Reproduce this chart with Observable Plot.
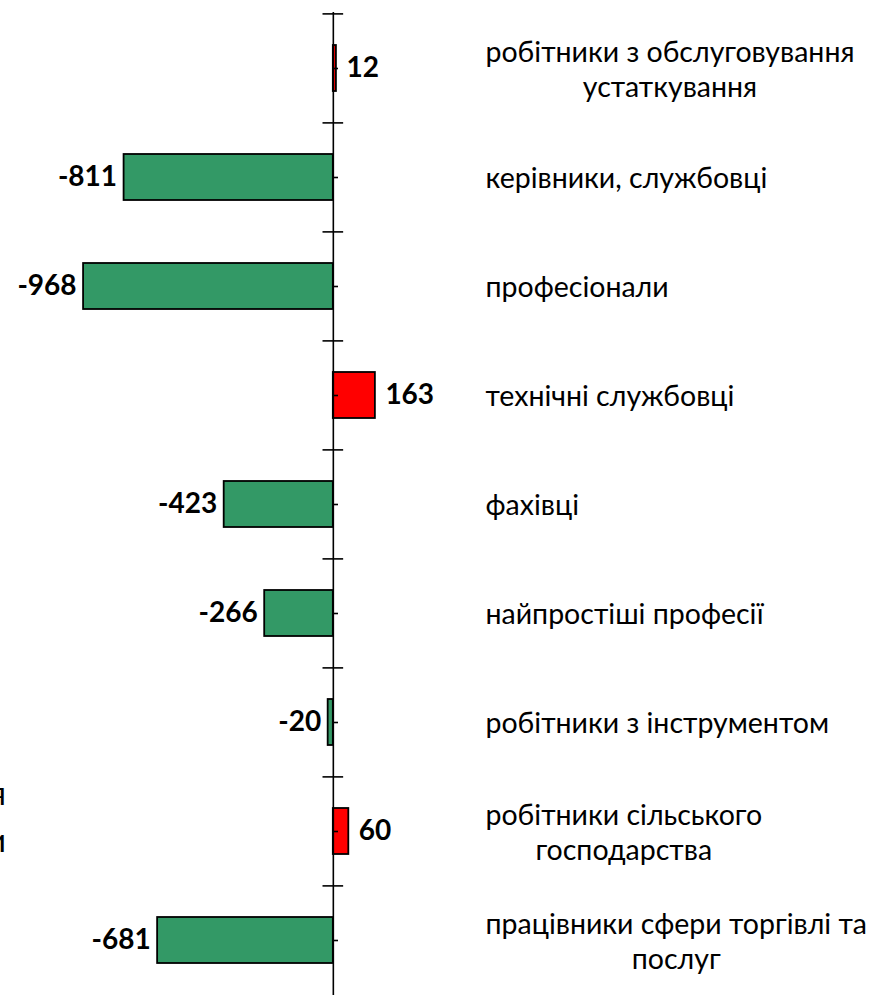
<!DOCTYPE html>
<html>
<head>
<meta charset="utf-8">
<script src="https://cdn.jsdelivr.net/npm/d3@7"></script>
<script src="https://cdn.jsdelivr.net/npm/@observablehq/plot@0.6"></script>
<style>
  html, body { margin: 0; padding: 0; background: #fff; }
  #wrap { position: relative; width: 870px; height: 995px; overflow: hidden; }
  .frag { position: absolute; left: -40px; width: 46px; text-align: right;
          font: 33px Lato, "Open Sans", sans-serif; line-height: 33px; color: #000; }
</style>
</head>
<body>
<div id="wrap"></div>
<script>
// ---- data ----
const categories = [
  "робітники з обслуговування\nустаткування",
  "керівники, службовці",
  "професіонали",
  "технічні службовці",
  "фахівці",
  "найпростіші професії",
  "робітники з інструментом",
  "робітники сільського\nгосподарства",
  "працівники сфери торгівлі та\nпослуг"
];
const values = [12, -811, -968, 163, -423, -266, -20, 60, -681];
const edgeFragments = ["я", "и"];   // clipped text at the left edge of the picture

const data = categories.map((c, i) => ({category: c, value: values[i]}));

const W = 870, H = 995, MT = 12, MB = 0;
const step = (H - MT - MB) / categories.length;
const pxPerUnit = 870 / (2082 + 1290);
const labelStart = 485;                       // px where the category labels begin
const labelX = -1290 + labelStart / pxPerUnit;

const chart = Plot.plot({
  width: W, height: H,
  marginTop: MT, marginBottom: MB, marginLeft: 0, marginRight: 0,
  x: {domain: [-1290, 2082], axis: null},
  y: {domain: categories, axis: null, paddingInner: 0.58, paddingOuter: 0.29},
  color: {type: "identity"},
  style: {fontFamily: "Lato, 'Open Sans', sans-serif", background: "white", overflow: "visible", color: "black"},
  marks: [
    Plot.barX(data, {x: "value", y: "category",
      fill: d => d.value < 0 ? "#339966" : "#ff0000",
      stroke: "black", strokeWidth: 1.8}),
    Plot.ruleX([0], {stroke: "black", strokeWidth: 1.6}),
    // minor ticks at band centres (right side)
    Plot.ruleY(categories, {y: d => d, x1: 0, x2: 20, stroke: "black", strokeWidth: 1.6}),
    // major ticks at band boundaries
    Plot.ruleY(categories, {y: d => d, x1: -40, x2: 40, dy: -step / 2, stroke: "black", strokeWidth: 1.6}),
    // value labels
    Plot.text(data.filter(d => d.value < 0), {x: "value", y: "category", text: d => String(d.value),
      textAnchor: "end", dx: -7, fontSize: 28, fontWeight: "bold", fill: "black"}),
    Plot.text(data.filter(d => d.value >= 0), {x: "value", y: "category", text: d => String(d.value),
      textAnchor: "start", dx: 10, fontSize: 28, fontWeight: "bold", fill: "black"}),
    // category labels
    Plot.text(categories, {x: () => labelX, y: d => d, text: d => d,
      textAnchor: "start", fontSize: 28.5, lineHeight: 1.2, fill: "black"})
  ]
});

const wrap = document.getElementById("wrap");
wrap.appendChild(chart);

edgeFragments.forEach((t, i) => {
  const s = document.createElement("div");
  s.className = "frag";
  s.textContent = t;
  s.style.top = (776 + i * 47) + "px";
  wrap.appendChild(s);
});

// centre each label's lines on its first line (first line starts at labelStart)
function adjust() {
  const firstLines = new Set(categories.map(c => c.split("\n")[0]));
  chart.querySelectorAll("text").forEach(t => {
    const spans = t.querySelectorAll("tspan");
    const first = spans.length ? spans[0] : t;
    if (!firstLines.has(first.textContent)) return;
    const w = first.getComputedTextLength();
    t.setAttribute("text-anchor", "middle");
    if (spans.length) spans.forEach(s => s.setAttribute("x", w / 2));
    else t.setAttribute("x", w / 2);
  });
}
adjust();
</script>
</body>
</html>
